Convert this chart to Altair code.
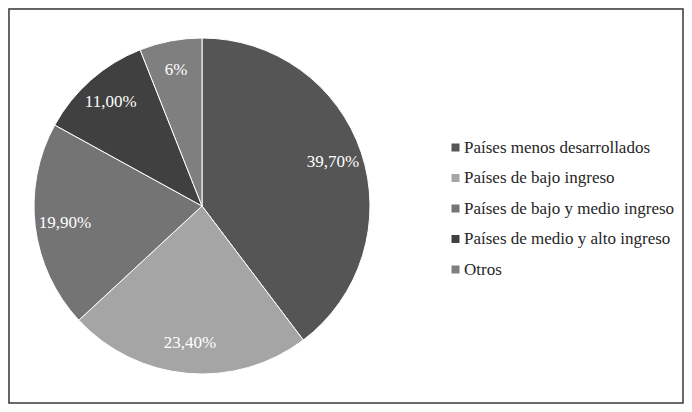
import altair as alt
import pandas as pd

categories = ["Países menos desarrollados", "Países de bajo ingreso",
              "Países de bajo y medio ingreso", "Países de medio y alto ingreso", "Otros"]
values = [39.7, 23.4, 19.9, 11.0, 6.0]
labels = ["39,70%", "23,40%", "19,90%", "11,00%", "6%"]
colors = ["#555555", "#a5a5a5", "#747474", "#404040", "#7f7f7f"]

df = pd.DataFrame({"cat": categories, "val": values, "lab": labels,
                   "idx": list(range(len(categories)))})

W, H = 676, 396
CX, CY, R = 194, 198, 168
FONT = "Liberation Serif"

base = alt.Chart(df).encode(
    theta=alt.Theta("val:Q", stack=True),
    order=alt.Order("idx:Q"),
    x=alt.value(CX), y=alt.value(CY),
)

pie = base.mark_arc(radius=R, stroke="white", strokeWidth=1).encode(
    color=alt.Color("cat:N", sort=categories,
                    scale=alt.Scale(domain=categories, range=colors),
                    legend=alt.Legend(title=None, orient="none", legendX=439, legendY=131,
                                      symbolType="square", symbolSize=64,
                                      symbolStrokeWidth=0,
                                      labelFont=FONT, labelFontSize=17,
                                      labelColor="#262626", labelOffset=0,
                                      rowPadding=12.5, padding=0, labelLimit=300))
)

text = base.mark_text(radius=138, font=FONT, fontSize=17,
                      color="white", baseline="middle", align="center").encode(
    text="lab:N"
)

border = alt.Chart(alt.Data(values=[{"a": 1}])).mark_rect(
    fill=None, stroke="#3a3a3a", strokeWidth=1.5
).encode(x=alt.value(1), x2=alt.value(W - 1), y=alt.value(1), y2=alt.value(H - 1))

chart = alt.layer(border, pie, text).properties(
    width=W, height=H, padding=0, autosize=alt.AutoSizeParams(type="none")
).configure_view(stroke=None).configure(font=FONT)

chart.save("out.html", embed_options={"renderer": "svg", "actions": False})
